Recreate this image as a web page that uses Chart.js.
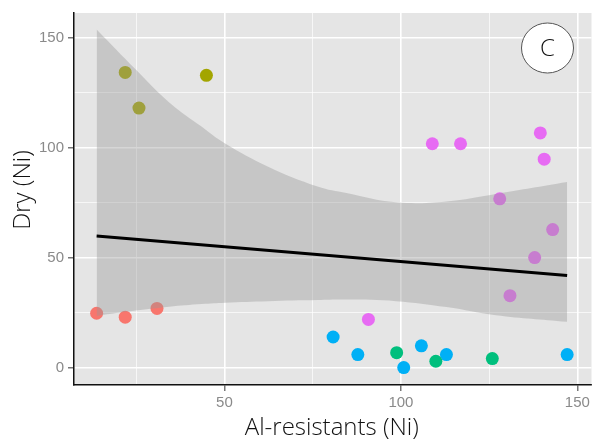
<!DOCTYPE html>
<html>
<head>
<meta charset="utf-8">
<script src="https://cdn.jsdelivr.net/npm/chart.js@4.4.1/dist/chart.umd.min.js"></script>
<style>
html,body{margin:0;padding:0;background:#fff;}
#wrap{width:598px;height:444px;}
</style>
</head>
<body>
<div id="wrap"><canvas id="c" width="598" height="444"></canvas></div>
<script>
// ---- data ----
const redX = [13.8, 21.9, 30.9];
const redY = [24.8, 23.0, 27.0];
const oliveX = [21.9, 25.8, 44.9];
const oliveY = [134.2, 118.0, 132.9];
const greenX = [98.8, 109.9, 125.9];
const greenY = [6.9, 3.0, 4.2];
const blueX = [80.8, 87.8, 100.8, 105.8, 112.9, 147.1];
const blueY = [14.0, 6.0, 0.1, 10.0, 6.0, 6.0];
const magentaX = [90.8, 108.9, 116.9, 128.0, 130.9, 137.9, 139.5, 140.6, 143.0];
const magentaY = [22.0, 101.8, 101.8, 76.8, 32.8, 50.1, 106.7, 94.8, 62.8];

const fitX = [13.8, 147.1];
const fitY = [59.9, 42.0];

const bandX = [13.8, 24.9, 34.3, 43.6, 50.2, 62.4, 76.4, 84.6, 98.6, 112.9, 126.9, 147.1];
const bandUpper = [153.7, 135.5, 120.7, 109.5, 101.9, 91.4, 82.4, 79.4, 75.2, 75.6, 79.0, 84.4];
const bandLower = [23.6, 26.0, 27.8, 29.0, 29.6, 30.3, 30.8, 31.0, 30.3, 27.6, 23.9, 20.9];

const xTicks = [50, 100, 150];
const yTicks = [0, 50, 100, 150];
const panelLabel = 'C';
const xTitle = 'Al-resistants (Ni)';
const yTitle = 'Dry (Ni)';

// ---- build ----
const pts = (xs, ys) => xs.map((x, i) => ({x: x, y: ys[i]}));
function pointSet(xs, ys, color) {
  return {data: pts(xs, ys), backgroundColor: color, borderWidth: 0, pointRadius: 6.5,
          pointHoverRadius: 6.5, showLine: false, order: 3};
}

const bgPlugin = {
  id: 'panelBg',
  beforeDraw(chart) {
    const {ctx, chartArea: a} = chart;
    ctx.save();
    ctx.fillStyle = '#e5e5e5';
    ctx.fillRect(a.left, a.top, a.right - a.left, a.bottom - a.top);
    ctx.restore();
  }
};
const labelPlugin = {
  id: 'panelLabel',
  afterDraw(chart) {
    const {ctx, chartArea: a} = chart;
    const cx = a.right - 44, cy = a.top + 35;
    ctx.save();
    ctx.beginPath();
    ctx.ellipse(cx, cy, 26, 25, 0, 0, Math.PI * 2);
    ctx.fillStyle = '#fff';
    ctx.fill();
    ctx.lineWidth = 1;
    ctx.strokeStyle = '#555';
    ctx.stroke();
    ctx.fillStyle = '#111';
    ctx.font = '300 24px "Open Sans", sans-serif';
    ctx.textAlign = 'center';
    ctx.textBaseline = 'middle';
    ctx.fillText(panelLabel, cx, cy + 1);

    // axis titles
    ctx.font = '300 24px "Open Sans", sans-serif';
    ctx.textBaseline = 'alphabetic';
    ctx.textAlign = 'center';
    ctx.fillText(xTitle, (a.left + a.right) / 2 - 1, chart.height - 9);
    ctx.translate(30, (a.top + a.bottom) / 2 - 9);
    ctx.rotate(-Math.PI / 2);
    ctx.fillText(yTitle, 0, 0);
    ctx.restore();
  }
};

const isMajor = (v, list) => list.indexOf(v) >= 0;

new Chart(document.getElementById('c'), {
  type: 'scatter',
  data: {
    datasets: [
      {data: pts(fitX, fitY), showLine: true, borderColor: '#000', borderWidth: 3, pointRadius: 0, fill: false, order: 0},
      {data: pts(bandX, bandUpper), showLine: true, borderWidth: 0, borderColor: 'rgba(0,0,0,0)', pointRadius: 0,
       backgroundColor: 'rgba(153,153,153,0.4)', fill: '+1', tension: 0.4, order: 1},
      {data: pts(bandX, bandLower), showLine: true, borderWidth: 0, borderColor: 'rgba(0,0,0,0)', pointRadius: 0,
       fill: false, tension: 0.4, order: 1},
      pointSet(redX, redY, '#F8766D'),
      pointSet(oliveX, oliveY, '#A3A500'),
      pointSet(greenX, greenY, '#00BF7D'),
      pointSet(blueX, blueY, '#00B0F6'),
      pointSet(magentaX, magentaY, '#E76BF3')
    ]
  },
  options: {
    responsive: false,
    devicePixelRatio: 1,
    animation: false,
    layout: {padding: {top: 10, right: 1, left: 0, bottom: 0}},
    plugins: {legend: {display: false}, tooltip: {enabled: false}},
    scales: {
      x: {
        type: 'linear', min: 7.39, max: 154.0,
        afterFit(s) { s.height = 59; },
        ticks: {stepSize: 25, includeBounds: false, autoSkip: false, maxRotation: 0,
          padding: 3, color: '#8a8a8a', font: {family: '"Liberation Sans", Arial, sans-serif', size: 15},
          callback: v => isMajor(v, xTicks) ? String(v) : ''},
        grid: {color: '#ffffff', lineWidth: c => isMajor(c.tick && c.tick.value, xTicks) ? 1.6 : 0.7,
          tickColor: c => isMajor(c.tick && c.tick.value, xTicks) ? '#555' : 'rgba(0,0,0,0)',
          tickLength: 6, tickWidth: 1.2},
        border: {display: true, color: '#111', width: 1.5}
      },
      y: {
        type: 'linear', min: -7.8, max: 161.2,
        afterFit(s) { s.width = 74; },
        ticks: {stepSize: 25, includeBounds: false, autoSkip: false,
          padding: 4, color: '#8a8a8a', font: {family: '"Liberation Sans", Arial, sans-serif', size: 15},
          callback: v => isMajor(v, yTicks) ? String(v) : ''},
        grid: {color: '#ffffff', lineWidth: c => isMajor(c.tick && c.tick.value, yTicks) ? 1.6 : 0.7,
          tickColor: c => isMajor(c.tick && c.tick.value, yTicks) ? '#555' : 'rgba(0,0,0,0)',
          tickLength: 6, tickWidth: 1.2},
        border: {display: true, color: '#111', width: 1.5}
      }
    }
  },
  plugins: [bgPlugin, labelPlugin]
});
</script>
</body>
</html>
